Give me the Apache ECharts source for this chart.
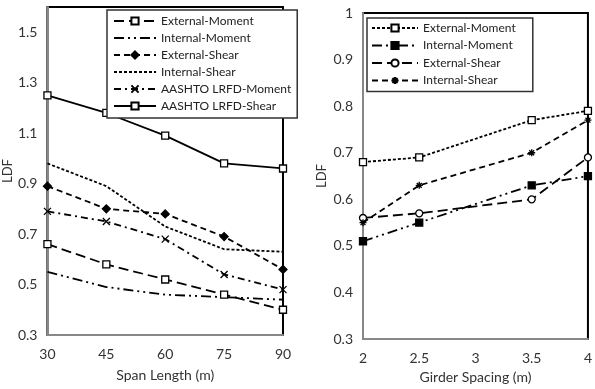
<!DOCTYPE html>
<html>
<head>
<meta charset="utf-8">
<script src="https://cdn.jsdelivr.net/npm/echarts@6/dist/echarts.min.js"></script>
<style>
  html, body { margin: 0; padding: 0; background: #fff; }
  #chart { width: 595px; height: 389px; }
</style>
</head>
<body>
<div id="chart"></div>
<script>
// left panel: LDF vs span length
var spanLength = [30, 45, 60, 75, 90]
var extMomentSpan = [0.66, 0.58, 0.52, 0.46, 0.40]
var intMomentSpan = [0.55, 0.49, 0.46, 0.45, 0.44]
var extShearSpan = [0.89, 0.80, 0.78, 0.69, 0.56]
var intShearSpan = [0.98, 0.89, 0.73, 0.64, 0.63]
var aashtoMomentSpan = [0.79, 0.75, 0.68, 0.54, 0.48]
var aashtoShearSpan = [1.25, 1.18, 1.09, 0.98, 0.96]

// right panel: LDF vs girder spacing
var girderSpacing = [2, 2.5, 3.5, 4]
var extMomentGs = [0.68, 0.69, 0.77, 0.79]
var intMomentGs = [0.51, 0.55, 0.63, 0.65]
var extShearGs = [0.56, 0.57, 0.60, 0.69]
var intShearGs = [0.55, 0.63, 0.70, 0.77]

var FONT = 'Lato, sans-serif'
var CROSS = 'path://M0,0L10,10M10,0L0,10'
var STAR = 'path://M5,0L5,10M0,5L10,5M1.5,1.5L8.5,8.5M8.5,1.5L1.5,8.5'

function pairs(xs, ys) {
  return xs.map(function (x, i) { return [x, ys[i]] })
}

// one line series, all black
function line(name, xIdx, xs, ys, dash, symbol, fill) {
  return {
    name: name,
    type: 'line',
    xAxisIndex: xIdx,
    yAxisIndex: xIdx,
    data: pairs(xs, ys),
    symbol: symbol || 'none',
    symbolSize: symbol === 'diamond' ? 8 : 7,
    showSymbol: !!symbol,
    lineStyle: { color: '#000', width: 1.8, type: dash },
    itemStyle: {
      color: fill ? '#000' : (symbol && symbol.indexOf('path') === 0 ? 'rgba(0,0,0,0)' : '#fff'),
      borderColor: '#000',
      borderWidth: 1.3,
    },
    animation: false,
  }
}

function xAxis(idx, min, max, interval, name, gap) {
  return {
    gridIndex: idx, type: 'value', min: min, max: max, interval: interval,
    name: name, nameLocation: 'middle', nameGap: gap,
    nameTextStyle: { fontFamily: FONT, fontSize: 14, color: '#333' },
    axisLine: { lineStyle: { color: '#888', width: 2 } },
    axisTick: { show: false },
    splitLine: { show: false },
    axisLabel: { fontFamily: FONT, fontSize: 14, color: '#333', margin: 12 },
  }
}

function yAxis(idx, min, max, interval, gap, hideMax) {
  return {
    gridIndex: idx, type: 'value', min: min, max: max, interval: interval,
    name: 'LDF', nameLocation: 'middle', nameGap: gap,
    nameTextStyle: { fontFamily: FONT, fontSize: 13, color: '#333' },
    axisLine: { show: true, lineStyle: { color: '#888', width: 2 } },
    axisTick: { show: false },
    splitLine: { show: false },
    axisLabel: {
      fontFamily: FONT, fontSize: 14, color: '#333', margin: 10,
      showMaxLabel: !hideMax,
      formatter: function (v) { return String(Math.round(v * 10) / 10) },
    },
  }
}

var legendBase = {
  orient: 'vertical',
  backgroundColor: '#fff',
  borderColor: '#333',
  borderWidth: 1.5,
  borderRadius: 0,
  itemHeight: 9,
  textStyle: { fontFamily: FONT, fontSize: 12, color: '#222' },
}

// lines without markers: hide the symbol in the legend icon too
var noMark = { itemStyle: { opacity: 0 } }

var chart = echarts.init(document.getElementById('chart'))
chart.setOption({
  backgroundColor: '#fff',
  animation: false,
  grid: [
    { left: 46, right: 312, top: 7, bottom: 54, show: true, borderColor: '#000', borderWidth: 2 },
    { left: 363, right: 1, top: 13, bottom: 46, show: true, borderColor: '#000', borderWidth: 2 },
  ],
  xAxis: [
    xAxis(0, 30, 90, 15, 'Span Length (m)', 33),
    xAxis(1, 2, 4, 0.5, 'Girder Spacing (m)', 28),
  ],
  yAxis: [
    yAxis(0, 0.3, 1.6, 0.2, 33, true),
    yAxis(1, 0.3, 1, 0.1, 35, false),
  ],
  legend: [
    Object.assign({}, legendBase, {
      left: 107, top: 10, itemWidth: 42, itemGap: 5, padding: [5, 6, 6, 6],
      data: [
        { name: 'External-Moment' },
        Object.assign({ name: 'Internal-Moment' }, noMark),
        { name: 'External-Shear' },
        Object.assign({ name: 'Internal-Shear' }, noMark),
        { name: 'AASHTO LRFD-Moment' },
        { name: 'AASHTO LRFD-Shear' },
      ],
    }),
    Object.assign({}, legendBase, {
      left: 367, top: 18, itemWidth: 46, itemGap: 5.5, padding: [4, 14, 5, 4],
      data: ['External-Moment ', 'Internal-Moment ', 'External-Shear ', 'Internal-Shear '],
    }),
  ],
  series: [
    line('External-Moment', 0, spanLength, extMomentSpan, [10, 5], 'rect'),
    line('Internal-Moment', 0, spanLength, intMomentSpan, [10, 4, 2, 4, 2, 4]),
    line('External-Shear', 0, spanLength, extShearSpan, [6, 4], 'diamond', true),
    line('Internal-Shear', 0, spanLength, intShearSpan, [3, 2]),
    line('AASHTO LRFD-Moment', 0, spanLength, aashtoMomentSpan, [7, 4, 2, 4], CROSS),
    line('AASHTO LRFD-Shear', 0, spanLength, aashtoShearSpan, 'solid', 'rect'),
    // trailing space keeps the right legend separate from the left one
    line('External-Moment ', 1, girderSpacing, extMomentGs, [3, 2], 'rect'),
    line('Internal-Moment ', 1, girderSpacing, intMomentGs, [10, 4, 2, 4, 2, 4], 'rect', true),
    line('External-Shear ', 1, girderSpacing, extShearGs, [10, 5], 'circle'),
    line('Internal-Shear ', 1, girderSpacing, intShearGs, [6, 4], STAR),
  ],
})
</script>
</body>
</html>
